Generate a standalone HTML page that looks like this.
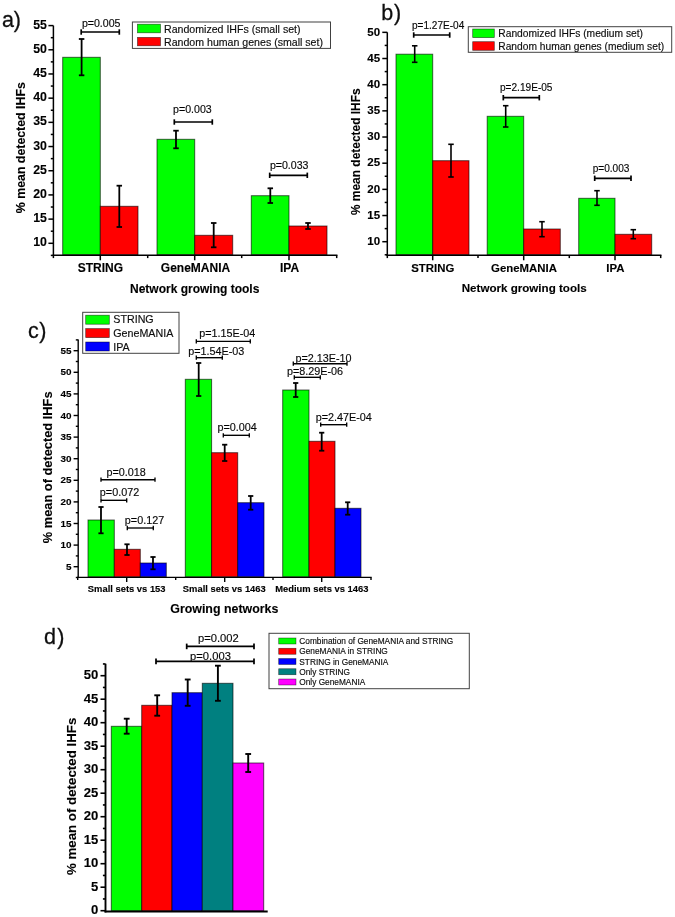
<!DOCTYPE html>
<html lang="en">
<head>
<meta charset="utf-8">
<title>Detected IHFs by network growing tool</title>
<style>
html, body { margin: 0; padding: 0; background: #ffffff; }
body { width: 675px; height: 917px; overflow: hidden; }
svg { display: block; font-family: "Liberation Sans", Arial, Helvetica, sans-serif; }
</style>
</head>
<body>
<svg width="675" height="917" viewBox="0 0 675 917">
<defs><filter id="soft" x="0" y="0" width="100%" height="100%" filterUnits="objectBoundingBox"><feGaussianBlur stdDeviation="0.3"/></filter></defs>
<rect x="0" y="0" width="675" height="917" fill="#ffffff"/>
<g filter="url(#soft)">
<rect x="0" y="0" width="675" height="917" fill="#ffffff"/>
<text x="1.90" y="27.30" font-size="21.5" text-anchor="start" fill="#111" stroke="#111" stroke-width="0.3">a)</text>
<rect x="62.70" y="57.30" width="37.60" height="197.40" fill="#00ff00" stroke="#000" stroke-opacity="0.62" stroke-width="1.0"/>
<rect x="100.30" y="206.30" width="37.70" height="48.40" fill="#ff0000" stroke="#000" stroke-opacity="0.62" stroke-width="1.0"/>
<rect x="157.00" y="139.30" width="37.70" height="115.40" fill="#00ff00" stroke="#000" stroke-opacity="0.62" stroke-width="1.0"/>
<rect x="194.70" y="235.30" width="38.00" height="19.40" fill="#ff0000" stroke="#000" stroke-opacity="0.62" stroke-width="1.0"/>
<rect x="251.30" y="195.70" width="37.70" height="59.00" fill="#00ff00" stroke="#000" stroke-opacity="0.62" stroke-width="1.0"/>
<rect x="289.00" y="226.00" width="38.00" height="28.70" fill="#ff0000" stroke="#000" stroke-opacity="0.62" stroke-width="1.0"/>
<line x1="81.60" y1="39.00" x2="81.60" y2="75.30" stroke="#000" stroke-width="1.8"/>
<line x1="78.85" y1="39.00" x2="84.35" y2="39.00" stroke="#000" stroke-width="1.8"/>
<line x1="78.85" y1="75.30" x2="84.35" y2="75.30" stroke="#000" stroke-width="1.8"/>
<line x1="119.30" y1="185.70" x2="119.30" y2="227.00" stroke="#000" stroke-width="1.8"/>
<line x1="116.55" y1="185.70" x2="122.05" y2="185.70" stroke="#000" stroke-width="1.8"/>
<line x1="116.55" y1="227.00" x2="122.05" y2="227.00" stroke="#000" stroke-width="1.8"/>
<line x1="176.00" y1="130.70" x2="176.00" y2="148.30" stroke="#000" stroke-width="1.8"/>
<line x1="173.25" y1="130.70" x2="178.75" y2="130.70" stroke="#000" stroke-width="1.8"/>
<line x1="173.25" y1="148.30" x2="178.75" y2="148.30" stroke="#000" stroke-width="1.8"/>
<line x1="213.70" y1="223.00" x2="213.70" y2="247.30" stroke="#000" stroke-width="1.8"/>
<line x1="210.95" y1="223.00" x2="216.45" y2="223.00" stroke="#000" stroke-width="1.8"/>
<line x1="210.95" y1="247.30" x2="216.45" y2="247.30" stroke="#000" stroke-width="1.8"/>
<line x1="270.30" y1="188.30" x2="270.30" y2="203.00" stroke="#000" stroke-width="1.8"/>
<line x1="267.55" y1="188.30" x2="273.05" y2="188.30" stroke="#000" stroke-width="1.8"/>
<line x1="267.55" y1="203.00" x2="273.05" y2="203.00" stroke="#000" stroke-width="1.8"/>
<line x1="308.00" y1="223.00" x2="308.00" y2="229.00" stroke="#000" stroke-width="1.8"/>
<line x1="305.25" y1="223.00" x2="310.75" y2="223.00" stroke="#000" stroke-width="1.8"/>
<line x1="305.25" y1="229.00" x2="310.75" y2="229.00" stroke="#000" stroke-width="1.8"/>
<line x1="53.40" y1="25.60" x2="53.40" y2="256.05" stroke="#000" stroke-width="1.5"/>
<line x1="48.40" y1="243.30" x2="53.40" y2="243.30" stroke="#000" stroke-width="1.5"/>
<text x="46.90" y="246.27" font-size="12.3" text-anchor="end" font-weight="bold" stroke="#000" stroke-width="0.12" fill="#000">10</text>
<line x1="50.80" y1="231.21" x2="53.40" y2="231.21" stroke="#000" stroke-width="1.5"/>
<line x1="48.40" y1="219.11" x2="53.40" y2="219.11" stroke="#000" stroke-width="1.5"/>
<text x="46.90" y="222.08" font-size="12.3" text-anchor="end" font-weight="bold" stroke="#000" stroke-width="0.12" fill="#000">15</text>
<line x1="50.80" y1="207.02" x2="53.40" y2="207.02" stroke="#000" stroke-width="1.5"/>
<line x1="48.40" y1="194.92" x2="53.40" y2="194.92" stroke="#000" stroke-width="1.5"/>
<text x="46.90" y="197.89" font-size="12.3" text-anchor="end" font-weight="bold" stroke="#000" stroke-width="0.12" fill="#000">20</text>
<line x1="50.80" y1="182.83" x2="53.40" y2="182.83" stroke="#000" stroke-width="1.5"/>
<line x1="48.40" y1="170.73" x2="53.40" y2="170.73" stroke="#000" stroke-width="1.5"/>
<text x="46.90" y="173.70" font-size="12.3" text-anchor="end" font-weight="bold" stroke="#000" stroke-width="0.12" fill="#000">25</text>
<line x1="50.80" y1="158.63" x2="53.40" y2="158.63" stroke="#000" stroke-width="1.5"/>
<line x1="48.40" y1="146.54" x2="53.40" y2="146.54" stroke="#000" stroke-width="1.5"/>
<text x="46.90" y="149.51" font-size="12.3" text-anchor="end" font-weight="bold" stroke="#000" stroke-width="0.12" fill="#000">30</text>
<line x1="50.80" y1="134.44" x2="53.40" y2="134.44" stroke="#000" stroke-width="1.5"/>
<line x1="48.40" y1="122.35" x2="53.40" y2="122.35" stroke="#000" stroke-width="1.5"/>
<text x="46.90" y="125.32" font-size="12.3" text-anchor="end" font-weight="bold" stroke="#000" stroke-width="0.12" fill="#000">35</text>
<line x1="50.80" y1="110.25" x2="53.40" y2="110.25" stroke="#000" stroke-width="1.5"/>
<line x1="48.40" y1="98.16" x2="53.40" y2="98.16" stroke="#000" stroke-width="1.5"/>
<text x="46.90" y="101.13" font-size="12.3" text-anchor="end" font-weight="bold" stroke="#000" stroke-width="0.12" fill="#000">40</text>
<line x1="50.80" y1="86.06" x2="53.40" y2="86.06" stroke="#000" stroke-width="1.5"/>
<line x1="48.40" y1="73.97" x2="53.40" y2="73.97" stroke="#000" stroke-width="1.5"/>
<text x="46.90" y="76.94" font-size="12.3" text-anchor="end" font-weight="bold" stroke="#000" stroke-width="0.12" fill="#000">45</text>
<line x1="50.80" y1="61.88" x2="53.40" y2="61.88" stroke="#000" stroke-width="1.5"/>
<line x1="48.40" y1="49.78" x2="53.40" y2="49.78" stroke="#000" stroke-width="1.5"/>
<text x="46.90" y="52.75" font-size="12.3" text-anchor="end" font-weight="bold" stroke="#000" stroke-width="0.12" fill="#000">50</text>
<line x1="50.80" y1="37.69" x2="53.40" y2="37.69" stroke="#000" stroke-width="1.5"/>
<line x1="48.40" y1="25.59" x2="53.40" y2="25.59" stroke="#000" stroke-width="1.5"/>
<text x="46.90" y="28.56" font-size="12.3" text-anchor="end" font-weight="bold" stroke="#000" stroke-width="0.12" fill="#000">55</text>
<line x1="50.80" y1="255.40" x2="53.40" y2="255.40" stroke="#000" stroke-width="1.5"/>
<line x1="52.65" y1="255.30" x2="337.45" y2="255.30" stroke="#000" stroke-width="1.5"/>
<line x1="100.30" y1="255.30" x2="100.30" y2="260.30" stroke="#000" stroke-width="1.5"/>
<line x1="194.70" y1="255.30" x2="194.70" y2="260.30" stroke="#000" stroke-width="1.5"/>
<line x1="289.00" y1="255.30" x2="289.00" y2="260.30" stroke="#000" stroke-width="1.5"/>
<line x1="53.40" y1="255.30" x2="53.40" y2="258.10" stroke="#000" stroke-width="1.5"/>
<line x1="147.70" y1="255.30" x2="147.70" y2="258.10" stroke="#000" stroke-width="1.5"/>
<line x1="241.70" y1="255.30" x2="241.70" y2="258.10" stroke="#000" stroke-width="1.5"/>
<line x1="336.70" y1="255.30" x2="336.70" y2="258.10" stroke="#000" stroke-width="1.5"/>
<line x1="81.20" y1="32.00" x2="119.30" y2="32.00" stroke="#000" stroke-width="1.7"/>
<line x1="81.20" y1="29.30" x2="81.20" y2="34.70" stroke="#000" stroke-width="1.7"/>
<line x1="119.30" y1="29.30" x2="119.30" y2="34.70" stroke="#000" stroke-width="1.7"/>
<text x="101.20" y="26.90" font-size="10.6" text-anchor="middle" stroke="#000" stroke-width="0.15" fill="#0c0c0c">p=0.005</text>
<line x1="174.30" y1="122.00" x2="212.30" y2="122.00" stroke="#000" stroke-width="1.7"/>
<line x1="174.30" y1="119.30" x2="174.30" y2="124.70" stroke="#000" stroke-width="1.7"/>
<line x1="212.30" y1="119.30" x2="212.30" y2="124.70" stroke="#000" stroke-width="1.7"/>
<text x="192.40" y="112.70" font-size="10.6" text-anchor="middle" stroke="#000" stroke-width="0.15" fill="#0c0c0c">p=0.003</text>
<line x1="269.70" y1="175.30" x2="307.30" y2="175.30" stroke="#000" stroke-width="1.7"/>
<line x1="269.70" y1="172.60" x2="269.70" y2="178.00" stroke="#000" stroke-width="1.7"/>
<line x1="307.30" y1="172.60" x2="307.30" y2="178.00" stroke="#000" stroke-width="1.7"/>
<text x="289.20" y="168.60" font-size="10.6" text-anchor="middle" stroke="#000" stroke-width="0.15" fill="#0c0c0c">p=0.033</text>
<text x="100.30" y="272.00" font-size="12.0" text-anchor="middle" font-weight="bold" stroke="#000" stroke-width="0.12" fill="#000">STRING</text>
<text x="195.50" y="272.00" font-size="12.0" text-anchor="middle" font-weight="bold" stroke="#000" stroke-width="0.12" fill="#000">GeneMANIA</text>
<text x="289.50" y="272.00" font-size="12.0" text-anchor="middle" font-weight="bold" stroke="#000" stroke-width="0.12" fill="#000">IPA</text>
<text x="194.70" y="292.60" font-size="12" text-anchor="middle" font-weight="bold" stroke="#000" stroke-width="0.12" fill="#000">Network growing tools</text>
<text x="25.10" y="147.70" font-size="12.35" text-anchor="middle" font-weight="bold" stroke="#000" stroke-width="0.12" transform="rotate(-90 25.10 147.70)" fill="#000">% mean detected IHFs</text>
<rect x="132.40" y="22.00" width="198.10" height="26.40" fill="#fff" stroke="#000" stroke-opacity="0.75" stroke-width="1.0"/>
<rect x="137.50" y="24.20" width="23.00" height="8.60" fill="#00ff00" stroke="#000" stroke-opacity="0.62" stroke-width="0.7"/>
<rect x="137.50" y="37.40" width="23.00" height="8.40" fill="#ff0000" stroke="#000" stroke-opacity="0.62" stroke-width="0.7"/>
<text x="164.00" y="32.60" font-size="10.6" text-anchor="start" stroke="#000" stroke-width="0.15" fill="#111">Randomized IHFs (small set)</text>
<text x="164.00" y="45.60" font-size="10.6" text-anchor="start" stroke="#000" stroke-width="0.15" fill="#111">Random human genes (small set)</text>
<text x="381.30" y="19.60" font-size="21.5" text-anchor="start" fill="#111" stroke="#111" stroke-width="0.3" letter-spacing="0.7">b)</text>
<rect x="396.00" y="54.20" width="36.70" height="200.50" fill="#00ff00" stroke="#000" stroke-opacity="0.62" stroke-width="1.0"/>
<rect x="432.70" y="160.70" width="36.30" height="94.00" fill="#ff0000" stroke="#000" stroke-opacity="0.62" stroke-width="1.0"/>
<rect x="487.20" y="116.30" width="36.50" height="138.40" fill="#00ff00" stroke="#000" stroke-opacity="0.62" stroke-width="1.0"/>
<rect x="523.70" y="229.00" width="36.60" height="25.70" fill="#ff0000" stroke="#000" stroke-opacity="0.62" stroke-width="1.0"/>
<rect x="578.70" y="198.30" width="36.30" height="56.40" fill="#00ff00" stroke="#000" stroke-opacity="0.62" stroke-width="1.0"/>
<rect x="615.00" y="234.30" width="36.70" height="20.40" fill="#ff0000" stroke="#000" stroke-opacity="0.62" stroke-width="1.0"/>
<line x1="414.70" y1="45.80" x2="414.70" y2="62.30" stroke="#000" stroke-width="1.6"/>
<line x1="411.95" y1="45.80" x2="417.45" y2="45.80" stroke="#000" stroke-width="1.6"/>
<line x1="411.95" y1="62.30" x2="417.45" y2="62.30" stroke="#000" stroke-width="1.6"/>
<line x1="451.00" y1="144.30" x2="451.00" y2="177.00" stroke="#000" stroke-width="1.6"/>
<line x1="448.25" y1="144.30" x2="453.75" y2="144.30" stroke="#000" stroke-width="1.6"/>
<line x1="448.25" y1="177.00" x2="453.75" y2="177.00" stroke="#000" stroke-width="1.6"/>
<line x1="505.70" y1="105.70" x2="505.70" y2="127.00" stroke="#000" stroke-width="1.6"/>
<line x1="502.95" y1="105.70" x2="508.45" y2="105.70" stroke="#000" stroke-width="1.6"/>
<line x1="502.95" y1="127.00" x2="508.45" y2="127.00" stroke="#000" stroke-width="1.6"/>
<line x1="542.00" y1="221.70" x2="542.00" y2="236.70" stroke="#000" stroke-width="1.6"/>
<line x1="539.25" y1="221.70" x2="544.75" y2="221.70" stroke="#000" stroke-width="1.6"/>
<line x1="539.25" y1="236.70" x2="544.75" y2="236.70" stroke="#000" stroke-width="1.6"/>
<line x1="597.00" y1="190.70" x2="597.00" y2="205.30" stroke="#000" stroke-width="1.6"/>
<line x1="594.25" y1="190.70" x2="599.75" y2="190.70" stroke="#000" stroke-width="1.6"/>
<line x1="594.25" y1="205.30" x2="599.75" y2="205.30" stroke="#000" stroke-width="1.6"/>
<line x1="633.30" y1="229.70" x2="633.30" y2="238.70" stroke="#000" stroke-width="1.6"/>
<line x1="630.55" y1="229.70" x2="636.05" y2="229.70" stroke="#000" stroke-width="1.6"/>
<line x1="630.55" y1="238.70" x2="636.05" y2="238.70" stroke="#000" stroke-width="1.6"/>
<line x1="387.30" y1="32.30" x2="387.30" y2="256.05" stroke="#000" stroke-width="1.5"/>
<line x1="382.30" y1="241.70" x2="387.30" y2="241.70" stroke="#000" stroke-width="1.5"/>
<text x="380.10" y="244.88" font-size="11.5" text-anchor="end" font-weight="bold" stroke="#000" stroke-width="0.12" fill="#000">10</text>
<line x1="384.70" y1="228.61" x2="387.30" y2="228.61" stroke="#000" stroke-width="1.5"/>
<line x1="382.30" y1="215.53" x2="387.30" y2="215.53" stroke="#000" stroke-width="1.5"/>
<text x="380.10" y="218.71" font-size="11.5" text-anchor="end" font-weight="bold" stroke="#000" stroke-width="0.12" fill="#000">15</text>
<line x1="384.70" y1="202.44" x2="387.30" y2="202.44" stroke="#000" stroke-width="1.5"/>
<line x1="382.30" y1="189.36" x2="387.30" y2="189.36" stroke="#000" stroke-width="1.5"/>
<text x="380.10" y="192.54" font-size="11.5" text-anchor="end" font-weight="bold" stroke="#000" stroke-width="0.12" fill="#000">20</text>
<line x1="384.70" y1="176.27" x2="387.30" y2="176.27" stroke="#000" stroke-width="1.5"/>
<line x1="382.30" y1="163.19" x2="387.30" y2="163.19" stroke="#000" stroke-width="1.5"/>
<text x="380.10" y="166.37" font-size="11.5" text-anchor="end" font-weight="bold" stroke="#000" stroke-width="0.12" fill="#000">25</text>
<line x1="384.70" y1="150.10" x2="387.30" y2="150.10" stroke="#000" stroke-width="1.5"/>
<line x1="382.30" y1="137.02" x2="387.30" y2="137.02" stroke="#000" stroke-width="1.5"/>
<text x="380.10" y="140.20" font-size="11.5" text-anchor="end" font-weight="bold" stroke="#000" stroke-width="0.12" fill="#000">30</text>
<line x1="384.70" y1="123.93" x2="387.30" y2="123.93" stroke="#000" stroke-width="1.5"/>
<line x1="382.30" y1="110.85" x2="387.30" y2="110.85" stroke="#000" stroke-width="1.5"/>
<text x="380.10" y="114.03" font-size="11.5" text-anchor="end" font-weight="bold" stroke="#000" stroke-width="0.12" fill="#000">35</text>
<line x1="384.70" y1="97.76" x2="387.30" y2="97.76" stroke="#000" stroke-width="1.5"/>
<line x1="382.30" y1="84.68" x2="387.30" y2="84.68" stroke="#000" stroke-width="1.5"/>
<text x="380.10" y="87.86" font-size="11.5" text-anchor="end" font-weight="bold" stroke="#000" stroke-width="0.12" fill="#000">40</text>
<line x1="384.70" y1="71.59" x2="387.30" y2="71.59" stroke="#000" stroke-width="1.5"/>
<line x1="382.30" y1="58.51" x2="387.30" y2="58.51" stroke="#000" stroke-width="1.5"/>
<text x="380.10" y="61.69" font-size="11.5" text-anchor="end" font-weight="bold" stroke="#000" stroke-width="0.12" fill="#000">45</text>
<line x1="384.70" y1="45.42" x2="387.30" y2="45.42" stroke="#000" stroke-width="1.5"/>
<line x1="382.30" y1="32.34" x2="387.30" y2="32.34" stroke="#000" stroke-width="1.5"/>
<text x="380.10" y="35.52" font-size="11.5" text-anchor="end" font-weight="bold" stroke="#000" stroke-width="0.12" fill="#000">50</text>
<line x1="384.70" y1="254.78" x2="387.30" y2="254.78" stroke="#000" stroke-width="1.5"/>
<line x1="386.55" y1="255.30" x2="661.45" y2="255.30" stroke="#000" stroke-width="1.5"/>
<line x1="432.70" y1="255.30" x2="432.70" y2="260.30" stroke="#000" stroke-width="1.5"/>
<line x1="523.70" y1="255.30" x2="523.70" y2="260.30" stroke="#000" stroke-width="1.5"/>
<line x1="615.00" y1="255.30" x2="615.00" y2="260.30" stroke="#000" stroke-width="1.5"/>
<line x1="387.30" y1="255.30" x2="387.30" y2="258.10" stroke="#000" stroke-width="1.5"/>
<line x1="478.00" y1="255.30" x2="478.00" y2="258.10" stroke="#000" stroke-width="1.5"/>
<line x1="569.30" y1="255.30" x2="569.30" y2="258.10" stroke="#000" stroke-width="1.5"/>
<line x1="660.70" y1="255.30" x2="660.70" y2="258.10" stroke="#000" stroke-width="1.5"/>
<line x1="413.70" y1="35.00" x2="449.70" y2="35.00" stroke="#000" stroke-width="1.7"/>
<line x1="413.70" y1="32.30" x2="413.70" y2="37.70" stroke="#000" stroke-width="1.7"/>
<line x1="449.70" y1="32.30" x2="449.70" y2="37.70" stroke="#000" stroke-width="1.7"/>
<text x="412.00" y="28.80" font-size="10.05" text-anchor="start" stroke="#000" stroke-width="0.15" fill="#0c0c0c">p=1.27E-04</text>
<line x1="503.30" y1="97.70" x2="539.30" y2="97.70" stroke="#000" stroke-width="1.7"/>
<line x1="503.30" y1="95.00" x2="503.30" y2="100.40" stroke="#000" stroke-width="1.7"/>
<line x1="539.30" y1="95.00" x2="539.30" y2="100.40" stroke="#000" stroke-width="1.7"/>
<text x="500.00" y="91.10" font-size="10.1" text-anchor="start" stroke="#000" stroke-width="0.15" fill="#0c0c0c">p=2.19E-05</text>
<line x1="594.70" y1="178.30" x2="631.00" y2="178.30" stroke="#000" stroke-width="1.7"/>
<line x1="594.70" y1="175.60" x2="594.70" y2="181.00" stroke="#000" stroke-width="1.7"/>
<line x1="631.00" y1="175.60" x2="631.00" y2="181.00" stroke="#000" stroke-width="1.7"/>
<text x="592.70" y="171.70" font-size="10.1" text-anchor="start" stroke="#000" stroke-width="0.15" fill="#0c0c0c">p=0.003</text>
<text x="432.80" y="271.60" font-size="11.4" text-anchor="middle" font-weight="bold" stroke="#000" stroke-width="0.12" fill="#000">STRING</text>
<text x="524.00" y="271.60" font-size="11.4" text-anchor="middle" font-weight="bold" stroke="#000" stroke-width="0.12" fill="#000">GeneMANIA</text>
<text x="615.30" y="271.60" font-size="11.4" text-anchor="middle" font-weight="bold" stroke="#000" stroke-width="0.12" fill="#000">IPA</text>
<text x="524.20" y="292.40" font-size="11.6" text-anchor="middle" font-weight="bold" stroke="#000" stroke-width="0.12" fill="#000">Network growing tools</text>
<text x="360.30" y="151.70" font-size="11.95" text-anchor="middle" font-weight="bold" stroke="#000" stroke-width="0.12" transform="rotate(-90 360.30 151.70)" fill="#000">% mean detected IHFs</text>
<rect x="468.30" y="26.70" width="203.40" height="25.60" fill="#fff" stroke="#000" stroke-opacity="0.75" stroke-width="1.0"/>
<rect x="472.70" y="29.00" width="21.60" height="8.60" fill="#00ff00" stroke="#000" stroke-opacity="0.62" stroke-width="0.7"/>
<rect x="472.70" y="41.70" width="21.60" height="8.60" fill="#ff0000" stroke="#000" stroke-opacity="0.62" stroke-width="0.7"/>
<text x="498.30" y="37.40" font-size="10.25" text-anchor="start" stroke="#000" stroke-width="0.15" fill="#111">Randomized IHFs (medium set)</text>
<text x="498.30" y="50.00" font-size="10.22" text-anchor="start" stroke="#000" stroke-width="0.15" fill="#111">Random human genes (medium set)</text>
<text x="27.90" y="338.00" font-size="21.5" text-anchor="start" fill="#111" stroke="#111" stroke-width="0.3" letter-spacing="0.5">c)</text>
<rect x="88.00" y="520.00" width="26.30" height="56.80" fill="#00ff00" stroke="#000" stroke-opacity="0.62" stroke-width="1.0"/>
<rect x="114.30" y="549.30" width="26.00" height="27.50" fill="#ff0000" stroke="#000" stroke-opacity="0.62" stroke-width="1.0"/>
<rect x="140.30" y="563.00" width="26.00" height="13.80" fill="#0000ff" stroke="#000" stroke-opacity="0.62" stroke-width="1.0"/>
<rect x="185.30" y="379.30" width="26.30" height="197.50" fill="#00ff00" stroke="#000" stroke-opacity="0.62" stroke-width="1.0"/>
<rect x="211.60" y="452.70" width="26.10" height="124.10" fill="#ff0000" stroke="#000" stroke-opacity="0.62" stroke-width="1.0"/>
<rect x="237.70" y="502.70" width="26.30" height="74.10" fill="#0000ff" stroke="#000" stroke-opacity="0.62" stroke-width="1.0"/>
<rect x="282.70" y="390.00" width="26.30" height="186.80" fill="#00ff00" stroke="#000" stroke-opacity="0.62" stroke-width="1.0"/>
<rect x="309.00" y="441.30" width="26.00" height="135.50" fill="#ff0000" stroke="#000" stroke-opacity="0.62" stroke-width="1.0"/>
<rect x="335.00" y="508.30" width="26.00" height="68.50" fill="#0000ff" stroke="#000" stroke-opacity="0.62" stroke-width="1.0"/>
<line x1="101.00" y1="507.00" x2="101.00" y2="533.30" stroke="#000" stroke-width="1.8"/>
<line x1="98.40" y1="507.00" x2="103.60" y2="507.00" stroke="#000" stroke-width="1.8"/>
<line x1="98.40" y1="533.30" x2="103.60" y2="533.30" stroke="#000" stroke-width="1.8"/>
<line x1="127.00" y1="544.30" x2="127.00" y2="555.00" stroke="#000" stroke-width="1.8"/>
<line x1="124.40" y1="544.30" x2="129.60" y2="544.30" stroke="#000" stroke-width="1.8"/>
<line x1="124.40" y1="555.00" x2="129.60" y2="555.00" stroke="#000" stroke-width="1.8"/>
<line x1="153.00" y1="557.00" x2="153.00" y2="569.30" stroke="#000" stroke-width="1.8"/>
<line x1="150.40" y1="557.00" x2="155.60" y2="557.00" stroke="#000" stroke-width="1.8"/>
<line x1="150.40" y1="569.30" x2="155.60" y2="569.30" stroke="#000" stroke-width="1.8"/>
<line x1="198.70" y1="363.00" x2="198.70" y2="396.00" stroke="#000" stroke-width="1.8"/>
<line x1="196.10" y1="363.00" x2="201.30" y2="363.00" stroke="#000" stroke-width="1.8"/>
<line x1="196.10" y1="396.00" x2="201.30" y2="396.00" stroke="#000" stroke-width="1.8"/>
<line x1="224.70" y1="444.70" x2="224.70" y2="461.00" stroke="#000" stroke-width="1.8"/>
<line x1="222.10" y1="444.70" x2="227.30" y2="444.70" stroke="#000" stroke-width="1.8"/>
<line x1="222.10" y1="461.00" x2="227.30" y2="461.00" stroke="#000" stroke-width="1.8"/>
<line x1="250.70" y1="496.00" x2="250.70" y2="509.70" stroke="#000" stroke-width="1.8"/>
<line x1="248.10" y1="496.00" x2="253.30" y2="496.00" stroke="#000" stroke-width="1.8"/>
<line x1="248.10" y1="509.70" x2="253.30" y2="509.70" stroke="#000" stroke-width="1.8"/>
<line x1="295.70" y1="383.00" x2="295.70" y2="397.00" stroke="#000" stroke-width="1.8"/>
<line x1="293.10" y1="383.00" x2="298.30" y2="383.00" stroke="#000" stroke-width="1.8"/>
<line x1="293.10" y1="397.00" x2="298.30" y2="397.00" stroke="#000" stroke-width="1.8"/>
<line x1="321.70" y1="432.70" x2="321.70" y2="450.70" stroke="#000" stroke-width="1.8"/>
<line x1="319.10" y1="432.70" x2="324.30" y2="432.70" stroke="#000" stroke-width="1.8"/>
<line x1="319.10" y1="450.70" x2="324.30" y2="450.70" stroke="#000" stroke-width="1.8"/>
<line x1="347.70" y1="502.30" x2="347.70" y2="514.70" stroke="#000" stroke-width="1.8"/>
<line x1="345.10" y1="502.30" x2="350.30" y2="502.30" stroke="#000" stroke-width="1.8"/>
<line x1="345.10" y1="514.70" x2="350.30" y2="514.70" stroke="#000" stroke-width="1.8"/>
<line x1="78.20" y1="339.50" x2="78.20" y2="578.10" stroke="#000" stroke-width="1.4"/>
<line x1="73.60" y1="566.70" x2="78.20" y2="566.70" stroke="#000" stroke-width="1.4"/>
<text x="71.40" y="569.71" font-size="9.9" text-anchor="end" font-weight="bold" stroke="#000" stroke-width="0.12" fill="#000">5</text>
<line x1="75.80" y1="555.90" x2="78.20" y2="555.90" stroke="#000" stroke-width="1.4"/>
<line x1="73.60" y1="545.10" x2="78.20" y2="545.10" stroke="#000" stroke-width="1.4"/>
<text x="71.40" y="548.11" font-size="9.9" text-anchor="end" font-weight="bold" stroke="#000" stroke-width="0.12" fill="#000">10</text>
<line x1="75.80" y1="534.30" x2="78.20" y2="534.30" stroke="#000" stroke-width="1.4"/>
<line x1="73.60" y1="523.50" x2="78.20" y2="523.50" stroke="#000" stroke-width="1.4"/>
<text x="71.40" y="526.51" font-size="9.9" text-anchor="end" font-weight="bold" stroke="#000" stroke-width="0.12" fill="#000">15</text>
<line x1="75.80" y1="512.70" x2="78.20" y2="512.70" stroke="#000" stroke-width="1.4"/>
<line x1="73.60" y1="501.90" x2="78.20" y2="501.90" stroke="#000" stroke-width="1.4"/>
<text x="71.40" y="504.91" font-size="9.9" text-anchor="end" font-weight="bold" stroke="#000" stroke-width="0.12" fill="#000">20</text>
<line x1="75.80" y1="491.10" x2="78.20" y2="491.10" stroke="#000" stroke-width="1.4"/>
<line x1="73.60" y1="480.30" x2="78.20" y2="480.30" stroke="#000" stroke-width="1.4"/>
<text x="71.40" y="483.31" font-size="9.9" text-anchor="end" font-weight="bold" stroke="#000" stroke-width="0.12" fill="#000">25</text>
<line x1="75.80" y1="469.50" x2="78.20" y2="469.50" stroke="#000" stroke-width="1.4"/>
<line x1="73.60" y1="458.70" x2="78.20" y2="458.70" stroke="#000" stroke-width="1.4"/>
<text x="71.40" y="461.71" font-size="9.9" text-anchor="end" font-weight="bold" stroke="#000" stroke-width="0.12" fill="#000">30</text>
<line x1="75.80" y1="447.90" x2="78.20" y2="447.90" stroke="#000" stroke-width="1.4"/>
<line x1="73.60" y1="437.10" x2="78.20" y2="437.10" stroke="#000" stroke-width="1.4"/>
<text x="71.40" y="440.11" font-size="9.9" text-anchor="end" font-weight="bold" stroke="#000" stroke-width="0.12" fill="#000">35</text>
<line x1="75.80" y1="426.30" x2="78.20" y2="426.30" stroke="#000" stroke-width="1.4"/>
<line x1="73.60" y1="415.50" x2="78.20" y2="415.50" stroke="#000" stroke-width="1.4"/>
<text x="71.40" y="418.51" font-size="9.9" text-anchor="end" font-weight="bold" stroke="#000" stroke-width="0.12" fill="#000">40</text>
<line x1="75.80" y1="404.70" x2="78.20" y2="404.70" stroke="#000" stroke-width="1.4"/>
<line x1="73.60" y1="393.90" x2="78.20" y2="393.90" stroke="#000" stroke-width="1.4"/>
<text x="71.40" y="396.91" font-size="9.9" text-anchor="end" font-weight="bold" stroke="#000" stroke-width="0.12" fill="#000">45</text>
<line x1="75.80" y1="383.10" x2="78.20" y2="383.10" stroke="#000" stroke-width="1.4"/>
<line x1="73.60" y1="372.30" x2="78.20" y2="372.30" stroke="#000" stroke-width="1.4"/>
<text x="71.40" y="375.31" font-size="9.9" text-anchor="end" font-weight="bold" stroke="#000" stroke-width="0.12" fill="#000">50</text>
<line x1="75.80" y1="361.50" x2="78.20" y2="361.50" stroke="#000" stroke-width="1.4"/>
<line x1="73.60" y1="350.70" x2="78.20" y2="350.70" stroke="#000" stroke-width="1.4"/>
<text x="71.40" y="353.71" font-size="9.9" text-anchor="end" font-weight="bold" stroke="#000" stroke-width="0.12" fill="#000">55</text>
<line x1="75.80" y1="339.90" x2="78.20" y2="339.90" stroke="#000" stroke-width="1.4"/>
<line x1="75.80" y1="577.50" x2="78.20" y2="577.50" stroke="#000" stroke-width="1.4"/>
<line x1="77.00" y1="577.40" x2="371.70" y2="577.40" stroke="#000" stroke-width="1.4"/>
<line x1="126.70" y1="577.40" x2="126.70" y2="582.00" stroke="#000" stroke-width="1.4"/>
<line x1="224.70" y1="577.40" x2="224.70" y2="582.00" stroke="#000" stroke-width="1.4"/>
<line x1="321.70" y1="577.40" x2="321.70" y2="582.00" stroke="#000" stroke-width="1.4"/>
<line x1="77.70" y1="577.40" x2="77.70" y2="579.90" stroke="#000" stroke-width="1.4"/>
<line x1="175.70" y1="577.40" x2="175.70" y2="579.90" stroke="#000" stroke-width="1.4"/>
<line x1="273.00" y1="577.40" x2="273.00" y2="579.90" stroke="#000" stroke-width="1.4"/>
<line x1="371.00" y1="577.40" x2="371.00" y2="579.90" stroke="#000" stroke-width="1.4"/>
<line x1="101.00" y1="479.70" x2="155.00" y2="479.70" stroke="#000" stroke-width="1.35"/>
<line x1="101.00" y1="477.55" x2="101.00" y2="481.85" stroke="#000" stroke-width="1.35"/>
<line x1="155.00" y1="477.55" x2="155.00" y2="481.85" stroke="#000" stroke-width="1.35"/>
<text x="126.20" y="476.00" font-size="10.8" text-anchor="middle" stroke="#000" stroke-width="0.15" fill="#0c0c0c">p=0.018</text>
<line x1="101.00" y1="500.30" x2="126.70" y2="500.30" stroke="#000" stroke-width="1.35"/>
<line x1="101.00" y1="498.15" x2="101.00" y2="502.45" stroke="#000" stroke-width="1.35"/>
<line x1="126.70" y1="498.15" x2="126.70" y2="502.45" stroke="#000" stroke-width="1.35"/>
<text x="119.50" y="496.00" font-size="10.8" text-anchor="middle" stroke="#000" stroke-width="0.15" fill="#0c0c0c">p=0.072</text>
<line x1="127.30" y1="528.00" x2="153.30" y2="528.00" stroke="#000" stroke-width="1.35"/>
<line x1="127.30" y1="525.85" x2="127.30" y2="530.15" stroke="#000" stroke-width="1.35"/>
<line x1="153.30" y1="525.85" x2="153.30" y2="530.15" stroke="#000" stroke-width="1.35"/>
<text x="144.50" y="524.00" font-size="10.8" text-anchor="middle" stroke="#000" stroke-width="0.15" fill="#0c0c0c">p=0.127</text>
<line x1="196.30" y1="341.30" x2="250.30" y2="341.30" stroke="#000" stroke-width="1.35"/>
<line x1="196.30" y1="339.15" x2="196.30" y2="343.45" stroke="#000" stroke-width="1.35"/>
<line x1="250.30" y1="339.15" x2="250.30" y2="343.45" stroke="#000" stroke-width="1.35"/>
<text x="227.20" y="337.40" font-size="10.8" text-anchor="middle" stroke="#000" stroke-width="0.15" fill="#0c0c0c">p=1.15E-04</text>
<line x1="196.30" y1="357.70" x2="222.30" y2="357.70" stroke="#000" stroke-width="1.35"/>
<line x1="196.30" y1="355.55" x2="196.30" y2="359.85" stroke="#000" stroke-width="1.35"/>
<line x1="222.30" y1="355.55" x2="222.30" y2="359.85" stroke="#000" stroke-width="1.35"/>
<text x="216.20" y="355.40" font-size="10.8" text-anchor="middle" stroke="#000" stroke-width="0.15" fill="#0c0c0c">p=1.54E-03</text>
<line x1="223.30" y1="435.30" x2="249.30" y2="435.30" stroke="#000" stroke-width="1.35"/>
<line x1="223.30" y1="433.15" x2="223.30" y2="437.45" stroke="#000" stroke-width="1.35"/>
<line x1="249.30" y1="433.15" x2="249.30" y2="437.45" stroke="#000" stroke-width="1.35"/>
<text x="237.20" y="431.40" font-size="10.8" text-anchor="middle" stroke="#000" stroke-width="0.15" fill="#0c0c0c">p=0.004</text>
<line x1="293.30" y1="363.70" x2="347.00" y2="363.70" stroke="#000" stroke-width="1.35"/>
<line x1="293.30" y1="361.55" x2="293.30" y2="365.85" stroke="#000" stroke-width="1.35"/>
<line x1="347.00" y1="361.55" x2="347.00" y2="365.85" stroke="#000" stroke-width="1.35"/>
<text x="323.50" y="362.00" font-size="10.8" text-anchor="middle" stroke="#000" stroke-width="0.15" fill="#0c0c0c">p=2.13E-10</text>
<line x1="294.30" y1="377.30" x2="320.30" y2="377.30" stroke="#000" stroke-width="1.35"/>
<line x1="294.30" y1="375.15" x2="294.30" y2="379.45" stroke="#000" stroke-width="1.35"/>
<line x1="320.30" y1="375.15" x2="320.30" y2="379.45" stroke="#000" stroke-width="1.35"/>
<text x="315.00" y="375.00" font-size="10.8" text-anchor="middle" stroke="#000" stroke-width="0.15" fill="#0c0c0c">p=8.29E-06</text>
<line x1="320.70" y1="424.70" x2="346.70" y2="424.70" stroke="#000" stroke-width="1.35"/>
<line x1="320.70" y1="422.55" x2="320.70" y2="426.85" stroke="#000" stroke-width="1.35"/>
<line x1="346.70" y1="422.55" x2="346.70" y2="426.85" stroke="#000" stroke-width="1.35"/>
<text x="343.80" y="421.40" font-size="10.8" text-anchor="middle" stroke="#000" stroke-width="0.15" fill="#0c0c0c">p=2.47E-04</text>
<text x="126.70" y="591.80" font-size="9.4" text-anchor="middle" font-weight="bold" stroke="#000" stroke-width="0.12" fill="#000">Small sets vs 153</text>
<text x="224.30" y="591.80" font-size="9.4" text-anchor="middle" font-weight="bold" stroke="#000" stroke-width="0.12" fill="#000">Small sets vs 1463</text>
<text x="321.80" y="591.80" font-size="9.4" text-anchor="middle" font-weight="bold" stroke="#000" stroke-width="0.12" fill="#000">Medium sets vs 1463</text>
<text x="224.30" y="613.00" font-size="12.4" text-anchor="middle" font-weight="bold" stroke="#000" stroke-width="0.12" fill="#000">Growing networks</text>
<text x="51.70" y="467.30" font-size="12.82" text-anchor="middle" font-weight="bold" stroke="#000" stroke-width="0.12" transform="rotate(-90 51.70 467.30)" fill="#000">% mean of detected IHFs</text>
<rect x="82.70" y="312.30" width="96.30" height="41.00" fill="#fff" stroke="#000" stroke-opacity="0.75" stroke-width="1.0"/>
<rect x="85.70" y="315.20" width="23.60" height="9.00" fill="#00ff00" stroke="#000" stroke-opacity="0.62" stroke-width="0.7"/>
<rect x="85.70" y="328.60" width="23.60" height="9.00" fill="#ff0000" stroke="#000" stroke-opacity="0.62" stroke-width="0.7"/>
<rect x="85.70" y="342.00" width="23.60" height="9.00" fill="#0000ff" stroke="#000" stroke-opacity="0.62" stroke-width="0.7"/>
<text x="113.30" y="323.40" font-size="10.7" text-anchor="start" stroke="#000" stroke-width="0.15" fill="#111">STRING</text>
<text x="113.30" y="337.00" font-size="10.7" text-anchor="start" stroke="#000" stroke-width="0.15" fill="#111">GeneMANIA</text>
<text x="113.30" y="350.70" font-size="10.7" text-anchor="start" stroke="#000" stroke-width="0.15" fill="#111">IPA</text>
<text x="44.00" y="643.50" font-size="21.5" text-anchor="start" fill="#111" stroke="#111" stroke-width="0.3" letter-spacing="1.3">d)</text>
<rect x="111.30" y="726.30" width="30.40" height="184.60" fill="#00ff00" stroke="#000" stroke-opacity="0.62" stroke-width="1.0"/>
<rect x="141.70" y="705.30" width="30.30" height="205.60" fill="#ff0000" stroke="#000" stroke-opacity="0.62" stroke-width="1.0"/>
<rect x="172.00" y="692.70" width="30.30" height="218.20" fill="#0000ff" stroke="#000" stroke-opacity="0.62" stroke-width="1.0"/>
<rect x="202.30" y="683.30" width="30.70" height="227.60" fill="#008080" stroke="#000" stroke-opacity="0.62" stroke-width="1.0"/>
<rect x="233.00" y="763.00" width="30.70" height="147.90" fill="#ff00ff" stroke="#000" stroke-opacity="0.62" stroke-width="1.0"/>
<line x1="126.70" y1="718.70" x2="126.70" y2="733.70" stroke="#000" stroke-width="1.9"/>
<line x1="123.80" y1="718.70" x2="129.60" y2="718.70" stroke="#000" stroke-width="1.9"/>
<line x1="123.80" y1="733.70" x2="129.60" y2="733.70" stroke="#000" stroke-width="1.9"/>
<line x1="157.20" y1="695.30" x2="157.20" y2="715.70" stroke="#000" stroke-width="1.9"/>
<line x1="154.30" y1="695.30" x2="160.10" y2="695.30" stroke="#000" stroke-width="1.9"/>
<line x1="154.30" y1="715.70" x2="160.10" y2="715.70" stroke="#000" stroke-width="1.9"/>
<line x1="187.70" y1="679.50" x2="187.70" y2="705.80" stroke="#000" stroke-width="1.9"/>
<line x1="184.80" y1="679.50" x2="190.60" y2="679.50" stroke="#000" stroke-width="1.9"/>
<line x1="184.80" y1="705.80" x2="190.60" y2="705.80" stroke="#000" stroke-width="1.9"/>
<line x1="217.90" y1="665.70" x2="217.90" y2="700.80" stroke="#000" stroke-width="1.9"/>
<line x1="215.00" y1="665.70" x2="220.80" y2="665.70" stroke="#000" stroke-width="1.9"/>
<line x1="215.00" y1="700.80" x2="220.80" y2="700.80" stroke="#000" stroke-width="1.9"/>
<line x1="248.20" y1="754.00" x2="248.20" y2="772.00" stroke="#000" stroke-width="1.9"/>
<line x1="245.30" y1="754.00" x2="251.10" y2="754.00" stroke="#000" stroke-width="1.9"/>
<line x1="245.30" y1="772.00" x2="251.10" y2="772.00" stroke="#000" stroke-width="1.9"/>
<line x1="105.50" y1="663.70" x2="105.50" y2="912.45" stroke="#000" stroke-width="1.9"/>
<line x1="100.50" y1="910.70" x2="105.50" y2="910.70" stroke="#000" stroke-width="1.6"/>
<text x="98.40" y="914.25" font-size="13.1" text-anchor="end" font-weight="bold" stroke="#000" stroke-width="0.12" fill="#000">0</text>
<line x1="102.90" y1="898.95" x2="105.50" y2="898.95" stroke="#000" stroke-width="1.6"/>
<line x1="100.50" y1="887.20" x2="105.50" y2="887.20" stroke="#000" stroke-width="1.6"/>
<text x="98.40" y="890.75" font-size="13.1" text-anchor="end" font-weight="bold" stroke="#000" stroke-width="0.12" fill="#000">5</text>
<line x1="102.90" y1="875.45" x2="105.50" y2="875.45" stroke="#000" stroke-width="1.6"/>
<line x1="100.50" y1="863.70" x2="105.50" y2="863.70" stroke="#000" stroke-width="1.6"/>
<text x="98.40" y="867.25" font-size="13.1" text-anchor="end" font-weight="bold" stroke="#000" stroke-width="0.12" fill="#000">10</text>
<line x1="102.90" y1="851.95" x2="105.50" y2="851.95" stroke="#000" stroke-width="1.6"/>
<line x1="100.50" y1="840.20" x2="105.50" y2="840.20" stroke="#000" stroke-width="1.6"/>
<text x="98.40" y="843.75" font-size="13.1" text-anchor="end" font-weight="bold" stroke="#000" stroke-width="0.12" fill="#000">15</text>
<line x1="102.90" y1="828.45" x2="105.50" y2="828.45" stroke="#000" stroke-width="1.6"/>
<line x1="100.50" y1="816.70" x2="105.50" y2="816.70" stroke="#000" stroke-width="1.6"/>
<text x="98.40" y="820.25" font-size="13.1" text-anchor="end" font-weight="bold" stroke="#000" stroke-width="0.12" fill="#000">20</text>
<line x1="102.90" y1="804.95" x2="105.50" y2="804.95" stroke="#000" stroke-width="1.6"/>
<line x1="100.50" y1="793.20" x2="105.50" y2="793.20" stroke="#000" stroke-width="1.6"/>
<text x="98.40" y="796.75" font-size="13.1" text-anchor="end" font-weight="bold" stroke="#000" stroke-width="0.12" fill="#000">25</text>
<line x1="102.90" y1="781.45" x2="105.50" y2="781.45" stroke="#000" stroke-width="1.6"/>
<line x1="100.50" y1="769.70" x2="105.50" y2="769.70" stroke="#000" stroke-width="1.6"/>
<text x="98.40" y="773.25" font-size="13.1" text-anchor="end" font-weight="bold" stroke="#000" stroke-width="0.12" fill="#000">30</text>
<line x1="102.90" y1="757.95" x2="105.50" y2="757.95" stroke="#000" stroke-width="1.6"/>
<line x1="100.50" y1="746.20" x2="105.50" y2="746.20" stroke="#000" stroke-width="1.6"/>
<text x="98.40" y="749.75" font-size="13.1" text-anchor="end" font-weight="bold" stroke="#000" stroke-width="0.12" fill="#000">35</text>
<line x1="102.90" y1="734.45" x2="105.50" y2="734.45" stroke="#000" stroke-width="1.6"/>
<line x1="100.50" y1="722.70" x2="105.50" y2="722.70" stroke="#000" stroke-width="1.6"/>
<text x="98.40" y="726.25" font-size="13.1" text-anchor="end" font-weight="bold" stroke="#000" stroke-width="0.12" fill="#000">40</text>
<line x1="102.90" y1="710.95" x2="105.50" y2="710.95" stroke="#000" stroke-width="1.6"/>
<line x1="100.50" y1="699.20" x2="105.50" y2="699.20" stroke="#000" stroke-width="1.6"/>
<text x="98.40" y="702.75" font-size="13.1" text-anchor="end" font-weight="bold" stroke="#000" stroke-width="0.12" fill="#000">45</text>
<line x1="102.90" y1="687.45" x2="105.50" y2="687.45" stroke="#000" stroke-width="1.6"/>
<line x1="100.50" y1="675.70" x2="105.50" y2="675.70" stroke="#000" stroke-width="1.6"/>
<text x="98.40" y="679.25" font-size="13.1" text-anchor="end" font-weight="bold" stroke="#000" stroke-width="0.12" fill="#000">50</text>
<line x1="102.90" y1="663.95" x2="105.50" y2="663.95" stroke="#000" stroke-width="1.6"/>
<line x1="104.55" y1="911.50" x2="267.70" y2="911.50" stroke="#000" stroke-width="1.9"/>
<line x1="186.70" y1="646.40" x2="254.00" y2="646.40" stroke="#000" stroke-width="1.75"/>
<line x1="186.70" y1="643.60" x2="186.70" y2="649.20" stroke="#000" stroke-width="1.75"/>
<line x1="254.00" y1="643.60" x2="254.00" y2="649.20" stroke="#000" stroke-width="1.75"/>
<text x="218.30" y="641.50" font-size="11.2" text-anchor="middle" stroke="#000" stroke-width="0.15" fill="#0c0c0c">p=0.002</text>
<line x1="156.00" y1="661.40" x2="254.00" y2="661.40" stroke="#000" stroke-width="1.75"/>
<line x1="156.00" y1="658.60" x2="156.00" y2="664.20" stroke="#000" stroke-width="1.75"/>
<line x1="254.00" y1="658.60" x2="254.00" y2="664.20" stroke="#000" stroke-width="1.75"/>
<text x="210.50" y="659.80" font-size="11.2" text-anchor="middle" stroke="#000" stroke-width="0.15" fill="#0c0c0c">p=0.003</text>
<text x="75.60" y="796.40" font-size="13.3" text-anchor="middle" font-weight="bold" stroke="#000" stroke-width="0.12" transform="rotate(-90 75.60 796.40)" fill="#000">% mean of detected IHFs</text>
<rect x="269.00" y="633.30" width="200.30" height="55.40" fill="#fff" stroke="#000" stroke-opacity="0.75" stroke-width="1.0"/>
<rect x="278.70" y="638.00" width="17.30" height="6.00" fill="#00ff00" stroke="#000" stroke-opacity="0.62" stroke-width="0.6"/>
<text x="299.30" y="644.20" font-size="8.3" text-anchor="start" stroke="#000" stroke-width="0.15" fill="#111">Combination of GeneMANIA and STRING</text>
<rect x="278.70" y="648.25" width="17.30" height="6.00" fill="#ff0000" stroke="#000" stroke-opacity="0.62" stroke-width="0.6"/>
<text x="299.30" y="654.45" font-size="8.3" text-anchor="start" stroke="#000" stroke-width="0.15" fill="#111">GeneMANIA in STRING</text>
<rect x="278.70" y="658.50" width="17.30" height="6.00" fill="#0000ff" stroke="#000" stroke-opacity="0.62" stroke-width="0.6"/>
<text x="299.30" y="664.70" font-size="8.3" text-anchor="start" stroke="#000" stroke-width="0.15" fill="#111">STRING in GeneMANIA</text>
<rect x="278.70" y="668.75" width="17.30" height="6.00" fill="#008080" stroke="#000" stroke-opacity="0.62" stroke-width="0.6"/>
<text x="299.30" y="674.95" font-size="8.3" text-anchor="start" stroke="#000" stroke-width="0.15" fill="#111">Only STRING</text>
<rect x="278.70" y="679.00" width="17.30" height="6.00" fill="#ff00ff" stroke="#000" stroke-opacity="0.62" stroke-width="0.6"/>
<text x="299.30" y="685.20" font-size="8.3" text-anchor="start" stroke="#000" stroke-width="0.15" fill="#111">Only GeneMANIA</text>
</g>
</svg>
</body>
</html>
